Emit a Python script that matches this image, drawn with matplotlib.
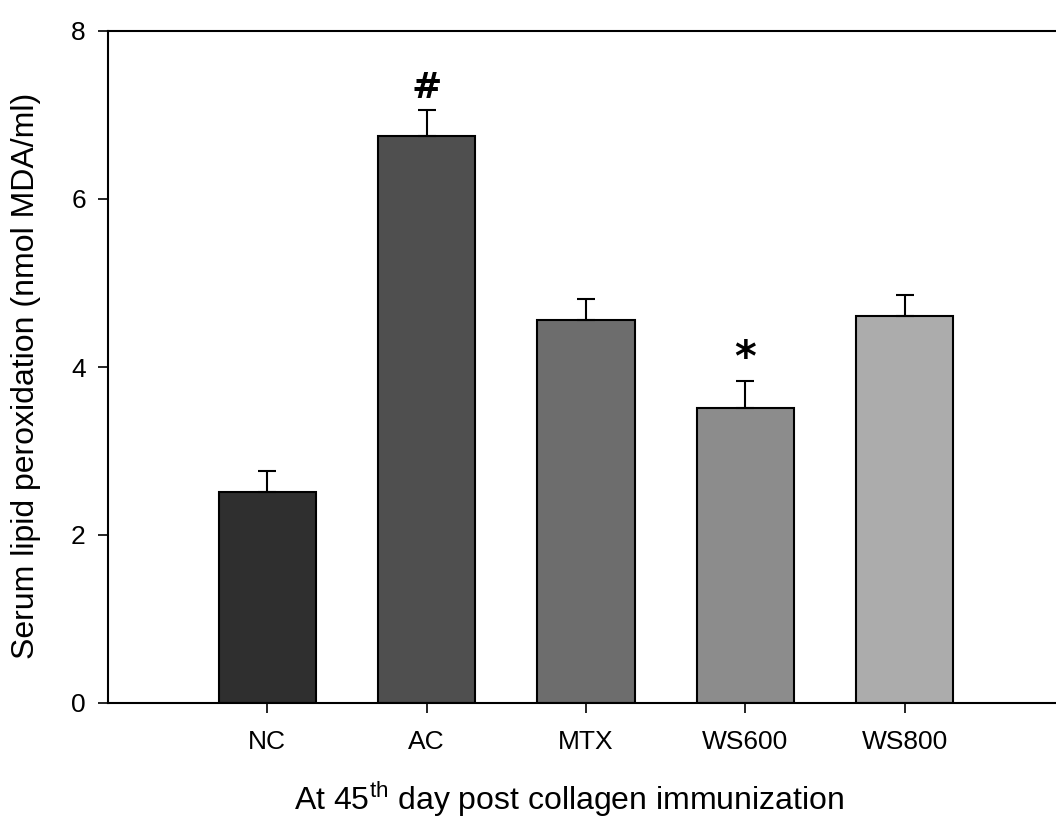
import matplotlib
matplotlib.use("Agg")
import matplotlib.pyplot as plt
import numpy as np

categories = ["NC", "AC", "MTX", "WS600", "WS800"]
means = [2.51, 6.75, 4.56, 3.51, 4.61]
errors = [0.25, 0.31, 0.25, 0.32, 0.25]
colors = ["#2f2f2f", "#4f4f4f", "#6d6d6d", "#8c8c8c", "#acacac"]
marks = ["", "#", "", "*", ""]
yticks = [0, 2, 4, 6, 8]

plt.rcParams['font.family'] = ['Liberation Sans', 'DejaVu Sans']

fig = plt.figure(figsize=(10.56, 8.18), dpi=100)
ax = fig.add_axes([108/1056, 1-703/818, 1-108/1056, (703-31)/818])

x = np.arange(len(categories))
ax.bar(x, means, width=0.61, color=colors, edgecolor="black", linewidth=1.5, zorder=2)
ax.errorbar(x, means, yerr=[np.zeros(len(means)), errors], fmt="none",
            ecolor="black", elinewidth=1.5, capsize=6.5, capthick=1.5, zorder=3)
for xi, m, e, mk in zip(x, means, errors, marks):
    if mk:
        off = 0.06 if mk == "#" else 0.02
        ax.text(xi, m + e + off, mk, ha="center", va="bottom",
                fontsize=26 if mk == "#" else 30, fontweight="bold", family="DejaVu Sans")

ax.set_xlim(-1.0, 4.95)
ax.set_ylim(0, 8)
ax.set_yticks(yticks)
ax.set_xticks(x)
ax.set_xticklabels(categories)
ax.spines["right"].set_visible(False)
for s in ["left", "bottom", "top"]:
    ax.spines[s].set_linewidth(1.5)
ax.tick_params(axis="both", direction="out", length=7.5, width=1.2, labelsize=19, pad=12)
ax.tick_params(axis="y", pad=8.5)
ax.set_ylabel("Serum lipid peroxidation (nmol MDA/ml)", fontsize=23)
ax.yaxis.set_label_coords(-0.071, 0.487)
ax.set_xlabel(r"At 45$^{\mathregular{th}}$ day post collagen immunization", fontsize=23)
ax.xaxis.set_label_coords(0.486, -0.114)

fig.savefig("out.png", dpi=100)
